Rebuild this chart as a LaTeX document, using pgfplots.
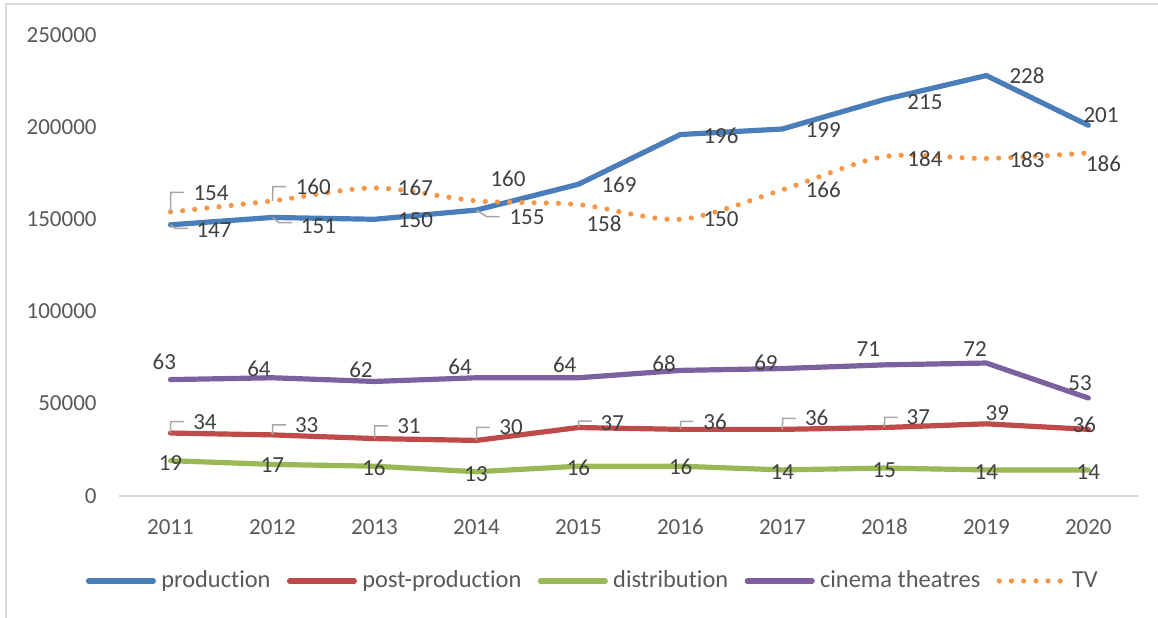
\documentclass[border=0pt]{standalone}
\usepackage{fontspec}
\setmainfont{Carlito}[Ligatures=NoCommon]
\usepackage{pgfplots}
\pgfplotsset{compat=1.18}
\usepackage{pgfplotstable}

\definecolor{prodc}{HTML}{4A7EBB}
\definecolor{postc}{HTML}{BE4B48}
\definecolor{distc}{HTML}{98B954}
\definecolor{cinec}{HTML}{7D60A0}
\definecolor{tvc}{HTML}{F79646}
\definecolor{leadc}{HTML}{A6A6A6}
\definecolor{tickc}{HTML}{595959}
\definecolor{labc}{HTML}{404040}
\definecolor{axisc}{HTML}{D9D9D9}

% leader line from a point to its shifted data label
\pgfdeclareplotmark{leader}{%
  \ifdim\Lon pt>0.5pt
    \pgfsetstrokecolor{leadc}%
    \pgfsetlinewidth{0.75pt}%
    \pgfpathmoveto{\pgfpointorigin}%
    \pgfpathlineto{\pgfqpoint{\Lcx pt}{\Lcy pt}}%
    \pgfpathlineto{\pgfpoint{\Lcx pt+6.5pt}{\Lcy pt}}%
    \pgfusepathqstroke
  \fi}

% x = year index (0 = 2011), y = value, dx/dy = label offset,
% ld = leader on/off, lx/ly = leader corner
\pgfplotstableread{
x y      dx   dy    ld lx   ly
0 147000 43.5  5.2  1  4.5  3.5
1 151000 46.0  8.6  1  6.5  5.3
2 150000 41.0  0.7  0  0    0
3 155000 50.6  6.9  1  10.3 6.6
4 169000 40.6  0.7  0  0    0
5 196000 40.6  1.5  0  0    0
6 199000 40.9  1.0  0  0    0
7 215000 40.6  2.2  0  0    0
8 228000 40.7  0.5  0  0    0
9 201000 12.7 -10.3 0  0    0
}\production

\pgfplotstableread{
x y     dx   dy    ld lx  ly
0 34000 34.5 -11.3 1  0.3 -11.3
1 33000 34.2 -9.9  1  0.3 -9.9
2 31000 34.5 -12.6 1  0.3 -12.6
3 30000 34.6 -13.1 1  0.3 -13.1
4 37000 33.9 -4.2  1  0.3 -6.5
5 36000 34.6 -7.7  1  0.3 -8.0
6 36000 34.3 -11.1 1  0.3 -11.1
7 37000 33.9 -10.2 1  0.3 -10.2
8 39000 11.0 -11.1 0  0    0
9 36000 -4.0 -4.4  0  0    0
}\postproduction

\pgfplotstableread{
x y     dx   dy  ld lx ly
0 19000 0.0  2.6 0  0  0
1 17000 0.0  0.6 0  0  0
2 16000 -0.5 1.5 0  0  0
3 13000 -0.4 2.3 0  0  0
4 16000 0.0  2.1 0  0  0
5 16000 0.3  0.5 0  0  0
6 14000 0.0  2.0 0  0  0
7 15000 0.0  2.0 0  0  0
8 14000 0.0  2.0 0  0  0
9 14000 0.0  2.0 0  0  0
}\distribution

\pgfplotstableread{
x y     dx    dy    ld lx ly
0 63000 -6.2  -17.9 0  0  0
1 64000 -13.5 -8.5  0  0  0
2 62000 -13.5 -12.1 0  0  0
3 64000 -16.4 -11.1 0  0  0
4 64000 -13.7 -12.8 0  0  0
5 68000 -16.4 -7.1  0  0  0
6 69000 -16.4 -5.8  0  0  0
7 71000 -16.1 -15.6 0  0  0
8 72000 -11.3 -13.7 0  0  0
9 53000 -8.3  -14.7 0  0  0
}\cinema

\pgfplotstableread{
x y      dx   dy    ld lx  ly
0 154000 40.5 -18.9 1  0.3 -19.5
1 160000 40.8 -14.2 1  0.5 -14.2
2 167000 41.0  0.3  0  0    0
3 160000 31.6 -21.9 0  0    0
4 158000 25.6  19.5 0  0    0
5 150000 40.6  0.0  0  0    0
6 166000 40.9  0.2  0  0    0
7 184000 40.6  1.7  0  0    0
8 183000 40.7  0.8  0  0    0
9 186000 15.2  11.1 0  0    0
}\tv

\pgfplotsset{
  serie/.style={line width=2.6pt, line join=round, line cap=round, no markers},
  datalabels/.style={
    forget plot, scatter, only marks, mark=leader,
    scatter/use mapped color={draw=leadc, fill=leadc},
    mark options={line width=0.75pt, solid, line cap=butt},
    point meta={\thisrow{y}/1000},
    visualization depends on={0.5*\thisrow{dx} \as \Ldx},
    visualization depends on={-0.5*\thisrow{dy} \as \Ldy},
    visualization depends on={\thisrow{ld} \as \Lon},
    visualization depends on={0.5*\thisrow{lx} \as \Lcx},
    visualization depends on={-0.5*\thisrow{ly} \as \Lcy},
    nodes near coords={\pgfmathprintnumber[fixed, precision=0]{\pgfplotspointmeta}},
    nodes near coords style={font=\fontsize{11.5}{14}\selectfont, text=labc,
      inner sep=0pt, anchor=center, xshift=\Ldx pt, yshift=\Ldy pt},
  },
}

\begin{document}
\begin{tikzpicture}
\draw[axisc, line width=0.75pt] (3pt,-10pt) -- (3pt,306.5pt) -- (620pt,306.5pt);
\begin{axis}[
  at={(59.75pt,60.65pt)}, anchor=south west,
  scale only axis, width=509.9pt, height=230.35pt,
  xmin=-0.5, xmax=9.5, ymin=0, ymax=250000,
  clip=false,
  xtick={0,...,9},
  xticklabels={2011,2012,2013,2014,2015,2016,2017,2018,2019,2020},
  ytick={0,50000,100000,150000,200000,250000},
  scaled y ticks=false,
  /pgf/number format/fixed,
  /pgf/number format/precision=0,
  /pgf/number format/1000 sep={},
  /pgf/number format/assume math mode=true,
  axis x line*=bottom, axis y line*=left,
  x axis line style={-, draw=axisc, line width=1pt},
  y axis line style={-, draw=none},
  major tick length=0pt,
  tick label style={font=\fontsize{11.5}{14}\selectfont, text=tickc},
  yticklabel style={anchor=east, inner sep=0pt, xshift=-11.25pt},
  xticklabel style={anchor=center, inner sep=0pt, yshift=-15.5pt},
  legend style={at={(-0.0333,-0.185)}, anchor=west, draw=none, fill=none,
    inner sep=0pt, font=\fontsize{12.2}{14}\selectfont, text=tickc,
    nodes={inner sep=0pt},
    /tikz/every odd column/.append style={column sep=2.7pt},
    /tikz/every even column/.append style={column sep=8.2pt}},
  legend columns=5,
  legend cell align=left,
  legend image code/.code={\draw[#1, line cap=round] (0pt,0pt) -- (32.4pt,0pt);},
]
\addplot[serie, prodc] table[x=x, y=y] {\production};
\addlegendentry{production}
\addplot[serie, postc] table[x=x, y=y] {\postproduction};
\addlegendentry{post-production}
\addplot[serie, distc] table[x=x, y=y] {\distribution};
\addlegendentry{distribution}
\addplot[serie, cinec] table[x=x, y=y] {\cinema};
\addlegendentry{cinema theatres}
\addplot[serie, tvc, smooth, tension=0.5, dash pattern=on 0pt off 6.1pt] table[x=x, y=y] {\tv};
\addlegendentry{TV}

\addplot[datalabels] table[x=x, y=y] {\production};
\addplot[datalabels] table[x=x, y=y] {\postproduction};
\addplot[datalabels] table[x=x, y=y] {\distribution};
\addplot[datalabels] table[x=x, y=y] {\cinema};
\addplot[datalabels] table[x=x, y=y] {\tv};
\end{axis}
\pgfresetboundingbox
\useasboundingbox (0pt,0pt) rectangle (579pt,308.5pt);
\end{tikzpicture}
\end{document}
